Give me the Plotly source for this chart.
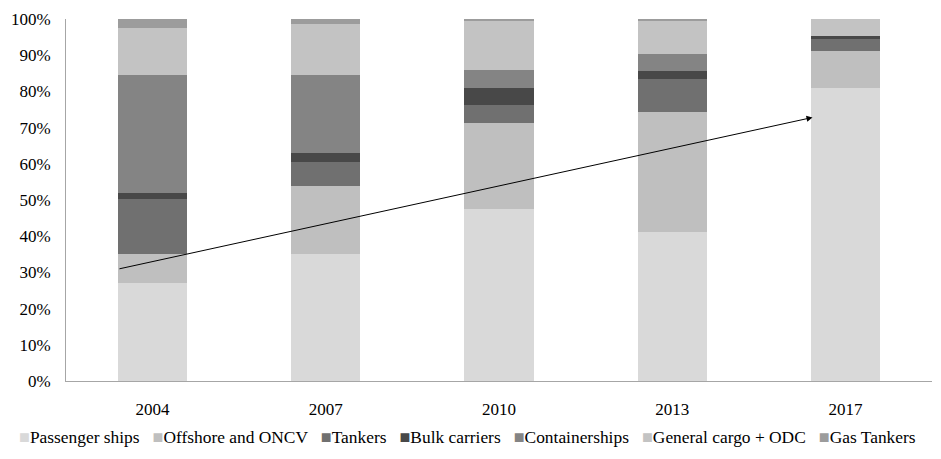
import plotly.graph_objects as go

years = ["2004", "2007", "2010", "2013", "2017"]

passenger_ships = [27.2, 35.2, 47.4, 41.1, 80.9]
offshore_oncv = [7.9, 18.8, 23.9, 33.2, 10.3]
tankers = [15.2, 6.4, 5.0, 9.2, 3.3]
bulk_carriers = [1.7, 2.6, 4.6, 2.1, 0.7]
containerships = [32.5, 21.6, 5.1, 4.8, 0.0]
general_cargo = [12.9, 14.0, 13.7, 9.1, 4.8]
gas_tankers = [2.6, 1.4, 0.3, 0.5, 0.0]

y_ticks = list(range(0, 101, 10))
y_labels = ["%d%%" % v for v in y_ticks]

series = [
    ("Passenger ships", passenger_ships, "#d9d9d9"),
    ("Offshore and ONCV", offshore_oncv, "#bfbfbf"),
    ("Tankers", tankers, "#707070"),
    ("Bulk carriers", bulk_carriers, "#484848"),
    ("Containerships", containerships, "#848484"),
    ("General cargo + ODC", general_cargo, "#c3c3c3"),
    ("Gas Tankers", gas_tankers, "#9c9c9c"),
]

# trend arrow, in axis coordinates (category index, percent)
arrow_start = (-0.2, 30.9)
arrow_end = (3.81, 72.8)

FONT = "Liberation Serif"

fig = go.Figure()
for name, vals, color in series:
    fig.add_trace(go.Bar(x=years, y=vals, name=name,
                         marker=dict(color=color, line=dict(width=0)),
                         showlegend=False))

# legend drawn as one line of rich text so it fits on a single row
legend_text = "   ".join(
    '<span style="color:%s;font-size:18px">&#9632;</span>%s' % (color, name)
    for name, vals, color in series
)

fig.add_annotation(x=arrow_end[0], y=arrow_end[1], ax=arrow_start[0], ay=arrow_start[1],
                   xref="x", yref="y", axref="x", ayref="y", text="",
                   showarrow=True, arrowhead=2, arrowsize=1.2, arrowwidth=1, arrowcolor="black")

fig.add_annotation(x=-0.057, y=-0.155, xref="paper", yref="paper", text=legend_text,
                   showarrow=False, xanchor="left", yanchor="middle",
                   font=dict(family=FONT, size=17.4, color="black"))

fig.update_layout(
    barmode="stack",
    bargap=0.6,
    width=941, height=459,
    margin=dict(l=66, r=9, t=19, b=78),
    plot_bgcolor="white", paper_bgcolor="white",
    font=dict(family=FONT, size=17, color="black"),
)
fig.update_xaxes(type="category", showline=True, linecolor="#a6a6a6", linewidth=1,
                 showgrid=False, ticks="", ticklabelstandoff=13)
fig.update_yaxes(range=[0, 100], tickvals=y_ticks, ticktext=y_labels, automargin=False,
                 showline=True, linecolor="#a6a6a6", linewidth=1, showgrid=False,
                 zeroline=False, ticks="", ticklabelstandoff=11)

# drop the default page margin so the figure sits at the window's corner
fig.write_html("out.html", config={"displayModeBar": False},
               post_script="document.body.style.margin='0';")
